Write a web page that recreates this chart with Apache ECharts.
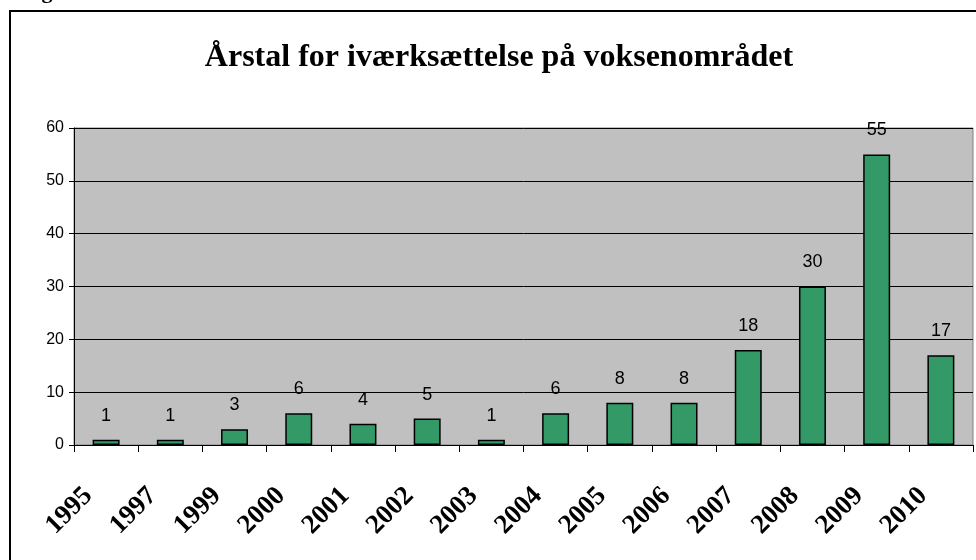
<!DOCTYPE html>
<html><head><meta charset="utf-8">
<script src="https://cdn.jsdelivr.net/npm/echarts@6/dist/echarts.min.js"></script>
<style>html,body{margin:0;padding:0;background:#fff}#c{width:976px;height:560px}</style>
</head><body><div id="c"></div>
<script>
var categories = ['1995','1997','1999','2000','2001','2002','2003','2004','2005','2006','2007','2008','2009','2010'];
var values = [1,1,3,6,4,5,1,6,8,8,18,30,55,17];
var yTicks = [0,10,20,30,40,50,60];
var titleText = 'Årstal for iværksættelse på voksenområdet';

var chart = echarts.init(document.getElementById('c'), null, {renderer:'canvas'});
chart.setOption({
  animation:false,
  backgroundColor:'#fff',
  title:{text:titleText,left:494,top:37,textAlign:'center',
    textStyle:{fontFamily:'Liberation Serif',fontWeight:'bold',fontSize:32,color:'#000'}},
  graphic:[
    {type:'rect',shape:{x:10,y:11,width:1000,height:600},style:{fill:'none',stroke:'#000',lineWidth:2},z:-1},
    {type:'text',left:22,top:-19,style:{text:'Fig',font:'bold 22px "Liberation Serif"',fill:'#000'}},
    {type:'rect',shape:{x:74,y:128,width:899,height:317},style:{fill:'none',stroke:'#808080',lineWidth:1},z:0}
  ],
  grid:{left:74,right:3,top:128,bottom:115,backgroundColor:'#c0c0c0',show:true,borderWidth:0},
  xAxis:{type:'category',data:categories,
    axisLine:{lineStyle:{color:'#000',width:1}},
    axisTick:{show:true,alignWithLabel:false,length:7,lineStyle:{color:'#000'}},
    axisLabel:{rotate:45,margin:29,interval:0,padding:[0,25,0,0],fontFamily:'Liberation Serif',fontWeight:'bold',fontSize:27,color:'#000'}},
  yAxis:{type:'value',min:0,max:60,interval:10,
    axisLine:{show:true,lineStyle:{color:'#000'}},
    axisTick:{show:true,length:5,lineStyle:{color:'#000'}},
    splitLine:{show:true,lineStyle:{color:'#000',width:1}},
    axisLabel:{margin:10,fontFamily:'Liberation Sans',fontSize:16,color:'#000',
      formatter:function(v){return yTicks.indexOf(v)>=0?String(v):'';}}},
  series:[{type:'bar',data:values,barWidth:'42%',
    itemStyle:{color:'#339966',borderColor:'#000',borderWidth:1.5},
    label:{show:true,position:'top',distance:15,fontFamily:'Liberation Sans',fontSize:18,color:'#000'}}]
});
</script></body></html>
